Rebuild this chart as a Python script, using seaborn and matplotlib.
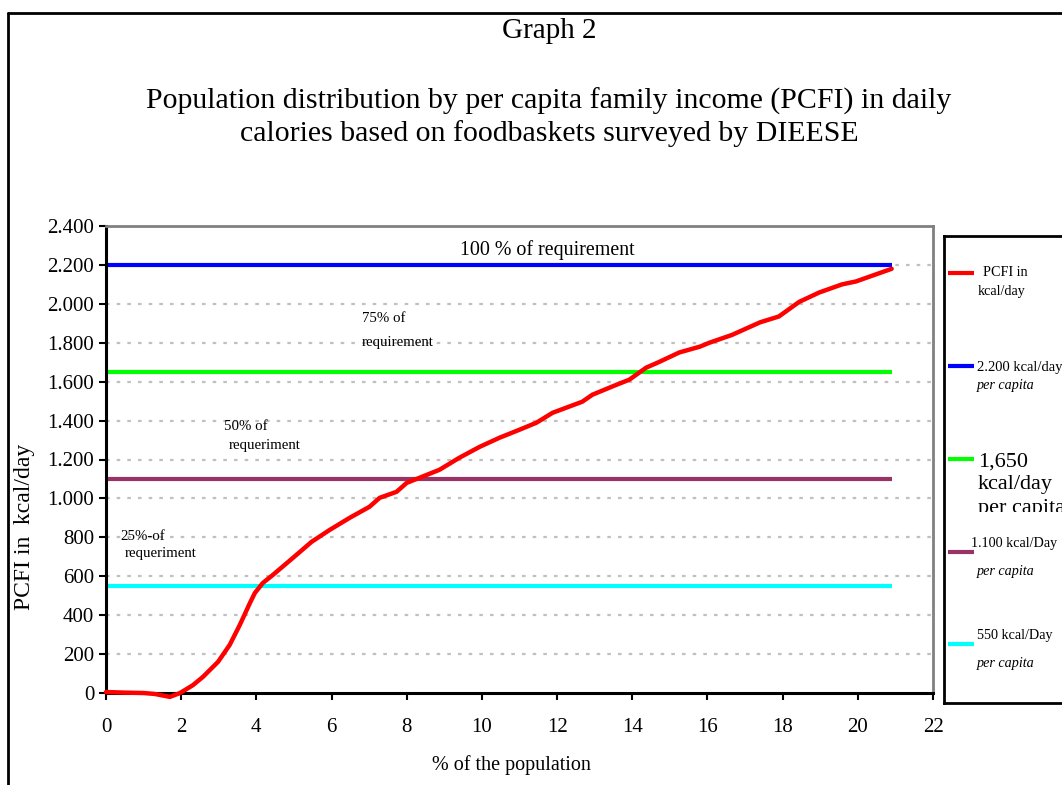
import matplotlib
matplotlib.use("Agg")
import matplotlib.pyplot as plt
from matplotlib.lines import Line2D
from matplotlib.patches import Rectangle
import seaborn as sns
import pandas as pd

# Share of the population (%) and per capita family income in kcal/day
pop_pct = [0, 0.5, 1.0, 1.3, 1.7, 1.97, 2.31, 2.58, 2.98, 3.29, 3.56, 3.83, 3.96,
           4.17, 4.44, 4.97, 5.47, 5.95, 6.48, 7.01, 7.28, 7.73, 8.0, 8.34, 8.87,
           9.4, 9.94, 10.47, 11.0, 11.45, 11.88, 12.67, 12.94, 13.58, 13.92, 14.37,
           14.7, 15.25, 15.8, 16.05, 16.65, 17.4, 17.9, 18.44, 18.97, 19.58, 19.95, 20.9]
pcfi_kcal = [5, 2, 0, -5, -20, 0, 40, 83, 160, 247, 350, 463, 514,
             565, 607, 694, 777, 838, 900, 957, 1003, 1034, 1080, 1106, 1147,
             1209, 1265, 1312, 1353, 1389, 1440, 1497, 1533, 1584, 1610, 1672,
             1700, 1750, 1780, 1800, 1840, 1905, 1935, 2010, 2058, 2100, 2115, 2180]

# Calorie requirement levels (100 %, 75 %, 50 %, 25 %)
req_levels = [2200, 1650, 1100, 550]
req_colors = ["#0000ff", "#00ff00", "#993366", "#00ffff"]

x_ticks = list(range(0, 23, 2))
y_ticks = list(range(0, 2401, 200))

sns.set_theme(style="white")
plt.rcParams["font.family"] = ["Liberation Serif", "DejaVu Serif"]
plt.rcParams["text.color"] = "black"
plt.rcParams["axes.labelcolor"] = "black"
plt.rcParams["xtick.color"] = "black"
plt.rcParams["ytick.color"] = "black"

W, H = 1062, 785
fig = plt.figure(figsize=(W / 100, H / 100), dpi=100)


def fx(px):
    return px / W


def fy(py):
    return 1 - py / H


ax = fig.add_axes([fx(106), fy(693), fx(933) - fx(106), fy(226) - fy(693)])

# dotted horizontal grid
for v in y_ticks[1:-1]:
    ax.axhline(v, color="#c0c0c0", lw=1.6, ls=(0, (1.6, 3.2)), zorder=1)

df = pd.DataFrame({"pop": pop_pct, "pcfi": pcfi_kcal})
x_end = pop_pct[-1]
for lvl, col in zip(req_levels, req_colors):
    ax.hlines(lvl, 0, x_end, colors=col, lw=3.0, zorder=2)

sns.lineplot(data=df, x="pop", y="pcfi", color="#ff0000", lw=3.2, ax=ax,
             zorder=3, legend=False)
for ln in ax.get_lines():
    ln.set_clip_on(False)

ax.set_xlim(0, 22)
ax.set_ylim(0, 2400)
ax.set_xticks(x_ticks)
ax.set_yticks(y_ticks)
ax.set_yticklabels([f"{v:,}".replace(",", ".") for v in y_ticks])
ax.tick_params(axis="both", labelsize=15, colors="black", direction="out",
               length=5, width=1.5, bottom=True, left=True)
ax.tick_params(axis="x", pad=13)
ax.set_xlabel("")
ax.set_ylabel("")
for side in ("left", "bottom"):
    ax.spines[side].set_color("black")
    ax.spines[side].set_linewidth(2.2)
    ax.spines[side].set_zorder(2.5)
for side in ("top", "right"):
    ax.spines[side].set_color("#808080")
    ax.spines[side].set_linewidth(2)

# in-plot annotations
ax.text(11.74, 2274, "100 % of requirement", fontsize=14.4, ha="center", va="center")
ax.text(6.8, 1924, "75% of", fontsize=10.7, ha="left", va="center")
ax.text(6.8, 1800, "requirement", fontsize=10.7, ha="left", va="center")
ax.text(3.13, 1368, "50% of", fontsize=10.7, ha="left", va="center")
ax.text(3.27, 1270, "requeriment", fontsize=10.7, ha="left", va="center")
ax.text(0.37, 802, "25%-of", fontsize=10.7, ha="left", va="center")
ax.text(0.5, 715, "requeriment", fontsize=10.7, ha="left", va="center")

# titles and axis labels
fig.text(fx(549), fy(31), "Graph 2", fontsize=21, ha="center", va="center")
fig.text(fx(549), fy(101), "Population distribution by per capita family income (PCFI) in daily",
         fontsize=21.5, ha="center", va="center")
fig.text(fx(549), fy(134), "calories based on foodbaskets surveyed by DIEESE",
         fontsize=21.5, ha="center", va="center")
fig.text(fx(511), fy(765), "% of the population", fontsize=14.5, ha="center", va="center")
fig.text(fx(25), fy(527), "PCFI in  kcal/day", fontsize=17, ha="center", va="center",
         rotation=90)

# outer frame of the figure (top and left edges)
fig.add_artist(Line2D([fx(8), 1.0], [fy(13), fy(13)], color="black", lw=2))
fig.add_artist(Line2D([fx(8), fx(8)], [fy(13), 0.0], color="black", lw=2))

# legend box
lax = fig.add_axes([fx(944), fy(703), 1.05 - fx(944), fy(236) - fy(703)])
lax.set_xlim(944, 944 + (1.05 * W - 944))
lax.set_ylim(703, 236)
lax.set_xticks([])
lax.set_yticks([])
lax.set_facecolor("white")
for s in lax.spines.values():
    s.set_color("black")
    s.set_linewidth(2)

handles = [
    (273, "#ff0000"),
    (366, "#0000ff"),
    (459, "#00ff00"),
    (552, "#993366"),
    (644, "#00ffff"),
]
for yy, col in handles:
    lax.plot([948, 974], [yy, yy], color=col, lw=3.0, solid_capstyle="butt")

legend_texts = [
    (983, 273, "PCFI in", 10.2, "normal"),
    (978, 292, "kcal/day", 10.2, "normal"),
    (977, 367, "2.200 kcal/day", 10.5, "normal"),
    (977, 385, "per capita", 10.2, "italic"),
    (978, 462, "1,650", 16, "normal"),
    (978, 485, "kcal/day", 16, "normal"),
    (978, 508, "per capita", 16, "normal"),
    (971, 543, "1.100 kcal/Day", 10.2, "normal"),
    (977, 572, "per capita", 10.2, "italic"),
    (977, 635, "550 kcal/Day", 10.2, "normal"),
    (977, 663, "per capita", 10.2, "italic"),
]
clip_box = Rectangle((944, 236), 300, 276, transform=lax.transData)
for x0, y0, s, size, style in legend_texts:
    t = lax.text(x0, y0, s, fontsize=size, style=style, ha="left", va="center",
                 clip_on=True)
    if size > 12:
        t.set_clip_path(clip_box)

fig.savefig("out.png", dpi=100, facecolor="white")
